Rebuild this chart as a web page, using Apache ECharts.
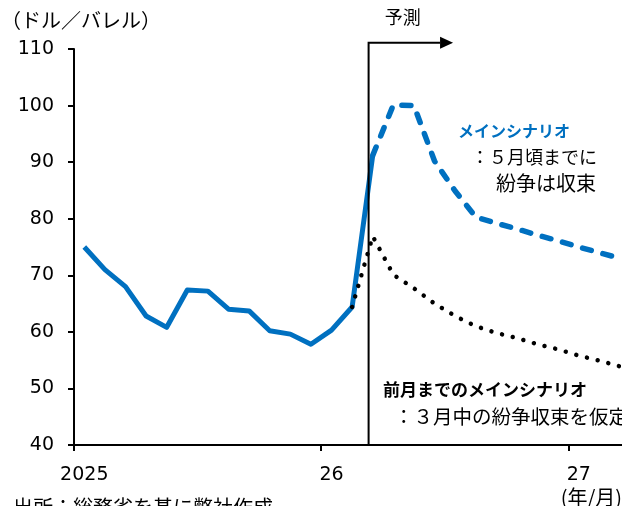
<!DOCTYPE html>
<html>
<head>
<meta charset="utf-8">
<script src="https://cdn.jsdelivr.net/npm/echarts@6/dist/echarts.min.js"></script>
<style>
  html, body { margin: 0; padding: 0; background: #fff; }
  #chart { width: 622px; height: 506px; }
</style>
</head>
<body>
<div id="chart"></div>
<script>
// Months are counted from January 2025 (0 = 2025年1月); each value sits mid-month.
const actualMonths = [0, 1, 2, 3, 4, 5, 6, 7, 8, 9, 10, 11, 12, 13, 14];
const actualPrice  = [75.0, 71.0, 68.0, 62.8, 60.8, 67.4, 67.2, 64.0, 63.7, 60.2, 59.6, 57.8, 60.3, 64.4, 91.2];

// メインシナリオ: conflict settles by around May
const mainMonths = [14, 15, 16, 17, 18, 19, 20, 21, 22, 23, 24, 25, 26];
const mainPrice  = [91.2, 100.1, 100.0, 90.2, 84.9, 80.3, 79.2, 78.2, 77.1, 76.1, 75.0, 74.0, 73.0];

// 前月までのメインシナリオ: conflict settles within March
const prevMonths = [13, 14, 15, 16, 17, 18, 19, 20, 21, 22, 23, 24, 25, 26];
const prevPrice  = [64.4, 76.9, 70.1, 67.7, 65.0, 62.8, 61.0, 59.8, 58.9, 57.8, 56.9, 55.8, 54.9, 53.9];

// Axis ticks: ticks at year boundaries, year labels centred on January
const yTicks = [40, 50, 60, 70, 80, 90, 100, 110];
const xTickMonths = [0, 12, 24];
const xTickLabels = ['2025', '26', '27'];
const xAxisEnd = 26.6;

// Forecast bracket (start month, top value, arrow end month)
const forecastStart = 14.3;
const forecastTop = 111.1;
const forecastArrowEnd = 18.4;

const BLUE = '#0070C0';
const NUM_FONT = 'DejaVu Sans';
const JP_FONT = '"Noto Sans CJK JP", sans-serif';

const midMonth = m => m + 0.5;
const toPairs = (months, values) => months.map((m, i) => [midMonth(m), values[i]]);

const chart = echarts.init(document.getElementById('chart'), null, { renderer: 'canvas' });

const option = {
  animation: false,
  backgroundColor: '#ffffff',
  grid: { left: 74, right: 0, top: 49, bottom: 61, containLabel: false },
  xAxis: {
    type: 'value',
    min: 0,
    max: xAxisEnd,
    interval: 12,
    splitLine: { show: false },
    axisLine: { show: true, lineStyle: { color: '#000', width: 2 } },
    axisTick: {
      show: true, length: 6, inside: false,
      lineStyle: { color: '#000', width: 2 },
      customValues: xTickMonths
    },
    axisLabel: {
      margin: 21,
      color: '#000',
      fontFamily: NUM_FONT,
      fontSize: 19,
      customValues: xTickMonths.map(midMonth),
      formatter: v => {
        const i = xTickMonths.indexOf(Math.round(v - 0.5));
        return i >= 0 ? xTickLabels[i] : '';
      }
    }
  },
  yAxis: {
    type: 'value',
    min: yTicks[0],
    max: yTicks[yTicks.length - 1],
    interval: 10,
    splitLine: { show: false },
    axisLine: { show: true, lineStyle: { color: '#000', width: 2 } },
    axisTick: { show: true, length: 6, inside: false, lineStyle: { color: '#000', width: 2 } },
    axisLabel: { margin: 20, color: '#000', fontFamily: NUM_FONT, fontSize: 19 }
  },
  series: [
    {
      name: '実績',
      type: 'line',
      data: toPairs(actualMonths, actualPrice),
      showSymbol: false,
      lineStyle: { color: BLUE, width: 5, join: 'round' },
      z: 3
    },
    {
      name: 'メインシナリオ',
      type: 'line',
      data: toPairs(mainMonths, mainPrice),
      showSymbol: false,
      lineStyle: { color: BLUE, width: 5.5, type: [9, 12], cap: 'round', join: 'round' },
      z: 3
    },
    {
      name: '前月までのメインシナリオ',
      type: 'line',
      data: toPairs(prevMonths, prevPrice),
      showSymbol: false,
      lineStyle: { color: '#000', width: 4.5, type: [0.01, 11], cap: 'round', join: 'round' },
      z: 4
    }
  ]
};

chart.setOption(option);

// Forecast bracket: vertical line from the x axis, then an arrow pointing right
const pBase = chart.convertToPixel({ gridIndex: 0 }, [forecastStart, yTicks[0]]);
const pTop = chart.convertToPixel({ gridIndex: 0 }, [forecastStart, forecastTop]);
const pEnd = chart.convertToPixel({ gridIndex: 0 }, [forecastArrowEnd, forecastTop]);
const headLen = 13, headHalf = 6;

const text = (str, x, y, opts = {}) => ({
  type: 'text',
  z: 10,
  style: Object.assign({
    text: str, x, y,
    fill: '#000',
    font: '19px ' + JP_FONT,
    textAlign: 'left',
    textVerticalAlign: 'middle'
  }, opts)
});

chart.setOption({
  graphic: [
    {
      type: 'polyline', z: 5,
      shape: { points: [[pBase[0], pBase[1]], [pTop[0], pTop[1]], [pEnd[0] - headLen, pEnd[1]]] },
      style: { stroke: '#000', lineWidth: 2, fill: null }
    },
    {
      type: 'polygon', z: 5,
      shape: { points: [[pEnd[0] - headLen, pEnd[1] - headHalf], [pEnd[0], pEnd[1]], [pEnd[0] - headLen, pEnd[1] + headHalf]] },
      style: { fill: '#000' }
    },
    text('予測', (pTop[0] + pEnd[0]) / 2 - 8, 17, { textAlign: 'center', font: '18px ' + JP_FONT }),
    text('（ドル／バレル）', 1, 20, { font: '20px ' + JP_FONT }),
    text('メインシナリオ', 458, 131, { fill: BLUE, font: 'bold 16px ' + JP_FONT }),
    text('：５月頃までに', 471, 157, { font: '18px ' + JP_FONT }),
    text('紛争は収束', 496, 183, { font: '20px ' + JP_FONT }),
    text('前月までのメインシナリオ', 383, 390, { font: 'bold 17px ' + JP_FONT }),
    text('：３月中の紛争収束を仮定', 394, 417, { font: '19.5px ' + JP_FONT }),
    text('(年/月)', 622, 497, { textAlign: 'right', font: '20px ' + JP_FONT }),
    text('出所：総務省を基に弊社作成', 13, 507, { font: '20px ' + JP_FONT })
  ]
});
</script>
</body>
</html>
